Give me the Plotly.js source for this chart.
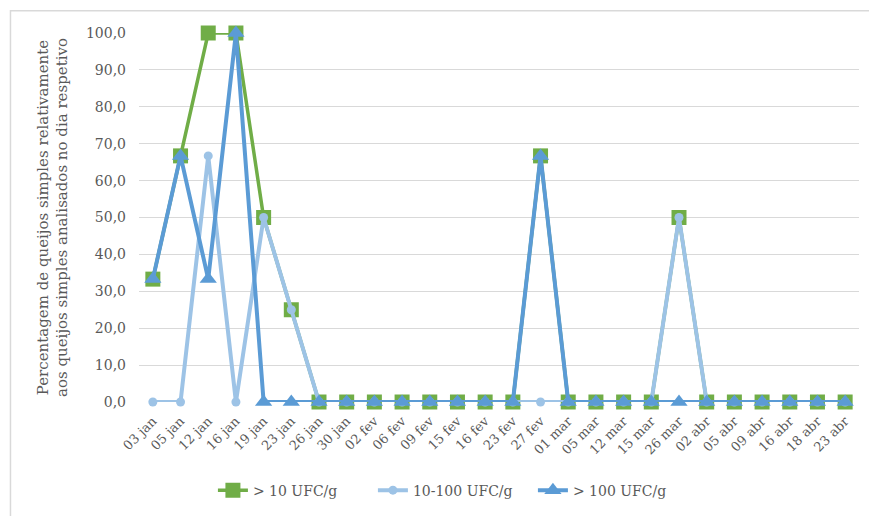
<!DOCTYPE html>
<html>
<head>
<meta charset="utf-8">
<script src="https://cdn.plot.ly/plotly-3.0.1.min.js"></script>
<style>html,body{margin:0;padding:0;background:#fff;}#chart{width:869px;height:516px;}</style>
</head>
<body>
<div id="chart"></div>
<script>
const categories = ["03 jan","05 jan","12 jan","16 jan","19 jan","23 jan","26 jan","30 jan","02 fev","06 fev","09 fev","15 fev","16 fev","23 fev","27 fev","01 mar","05 mar","12 mar","15 mar","26 mar","02 abr","05 abr","09 abr","16 abr","18 abr","23 abr"];
const above10 = [33.3,66.7,100,100,50,25,0,0,0,0,0,0,0,0,66.7,0,0,0,0,50,0,0,0,0,0,0];
const between10_100 = [0,0,66.7,0,50,25,0,0,0,0,0,0,0,0,0,0,0,0,0,50,0,0,0,0,0,0];
const above100 = [33.3,66.7,33.3,100,0,0,0,0,0,0,0,0,0,0,66.7,0,0,0,0,0,0,0,0,0,0,0];
const seriesNames = ["> 10 UFC/g","10-100 UFC/g","> 100 UFC/g"];

const font = "DejaVu Serif, Liberation Serif, serif";
const traces = [
  {x: categories, y: above10, name: seriesNames[0], type: "scatter", mode: "lines+markers", cliponaxis: false,
   line: {color: "#70AD47", width: 3.5}, marker: {symbol: "square", size: 15, color: "#70AD47"}},
  {x: categories, y: between10_100, name: seriesNames[1], type: "scatter", mode: "lines+markers", cliponaxis: false,
   line: {color: "#9DC3E6", width: 4}, marker: {symbol: "circle", size: 9, color: "#9DC3E6"}},
  {x: categories, y: above100, name: seriesNames[2], type: "scatter", mode: "lines+markers", cliponaxis: false,
   line: {color: "#5B9BD5", width: 4}, marker: {symbol: "triangle-up", size: 15, color: "#5B9BD5"}}
];
const layout = {
  width: 869, height: 516,
  margin: {l: 139, r: 10, t: 33, b: 110},
  paper_bgcolor: "#fff", plot_bgcolor: "#fff",
  separators: ", ",
  font: {family: font, color: "#595959", size: 14},
  showlegend: true,
  legend: {orientation: "h", x: 0.436, xanchor: "center", y: -0.24, yanchor: "middle",
           entrywidth: 115, entrywidthmode: "pixels",
           font: {family: font, size: 14, color: "#595959"}, traceorder: "normal"},
  xaxis: {type: "category", tickangle: -45, showgrid: false, zeroline: false, showline: false,
          ticks: "", ticklabelstandoff: 8, tickfont: {family: font, size: 13, color: "#595959"}, range: [-0.5, 25.5], fixedrange: true},
  yaxis: {range: [0, 100], dtick: 10, tickformat: ".1f", showgrid: true, gridcolor: "#D9D9D9", gridwidth: 1,
          zeroline: false, showline: false, ticks: "", ticklabelstandoff: 12,
          tickfont: {family: font, size: 14, color: "#595959"},
          title: {text: "Percentagem de queijos simples relativamente<br>aos queijos simples analisados no dia respetivo",
                  font: {family: font, size: 15, color: "#595959"}, standoff: 14}},
  shapes: [{type: "rect", xref: "paper", yref: "paper", x0: -0.1785, x1: 1.2, y0: -0.6, y1: 1.0604,
            line: {color: "#D9D9D9", width: 1.5}, fillcolor: "rgba(0,0,0,0)", layer: "below"}]
};
Plotly.newPlot("chart", traces, layout, {displayModeBar: false, staticPlot: true});
</script>
</body>
</html>
